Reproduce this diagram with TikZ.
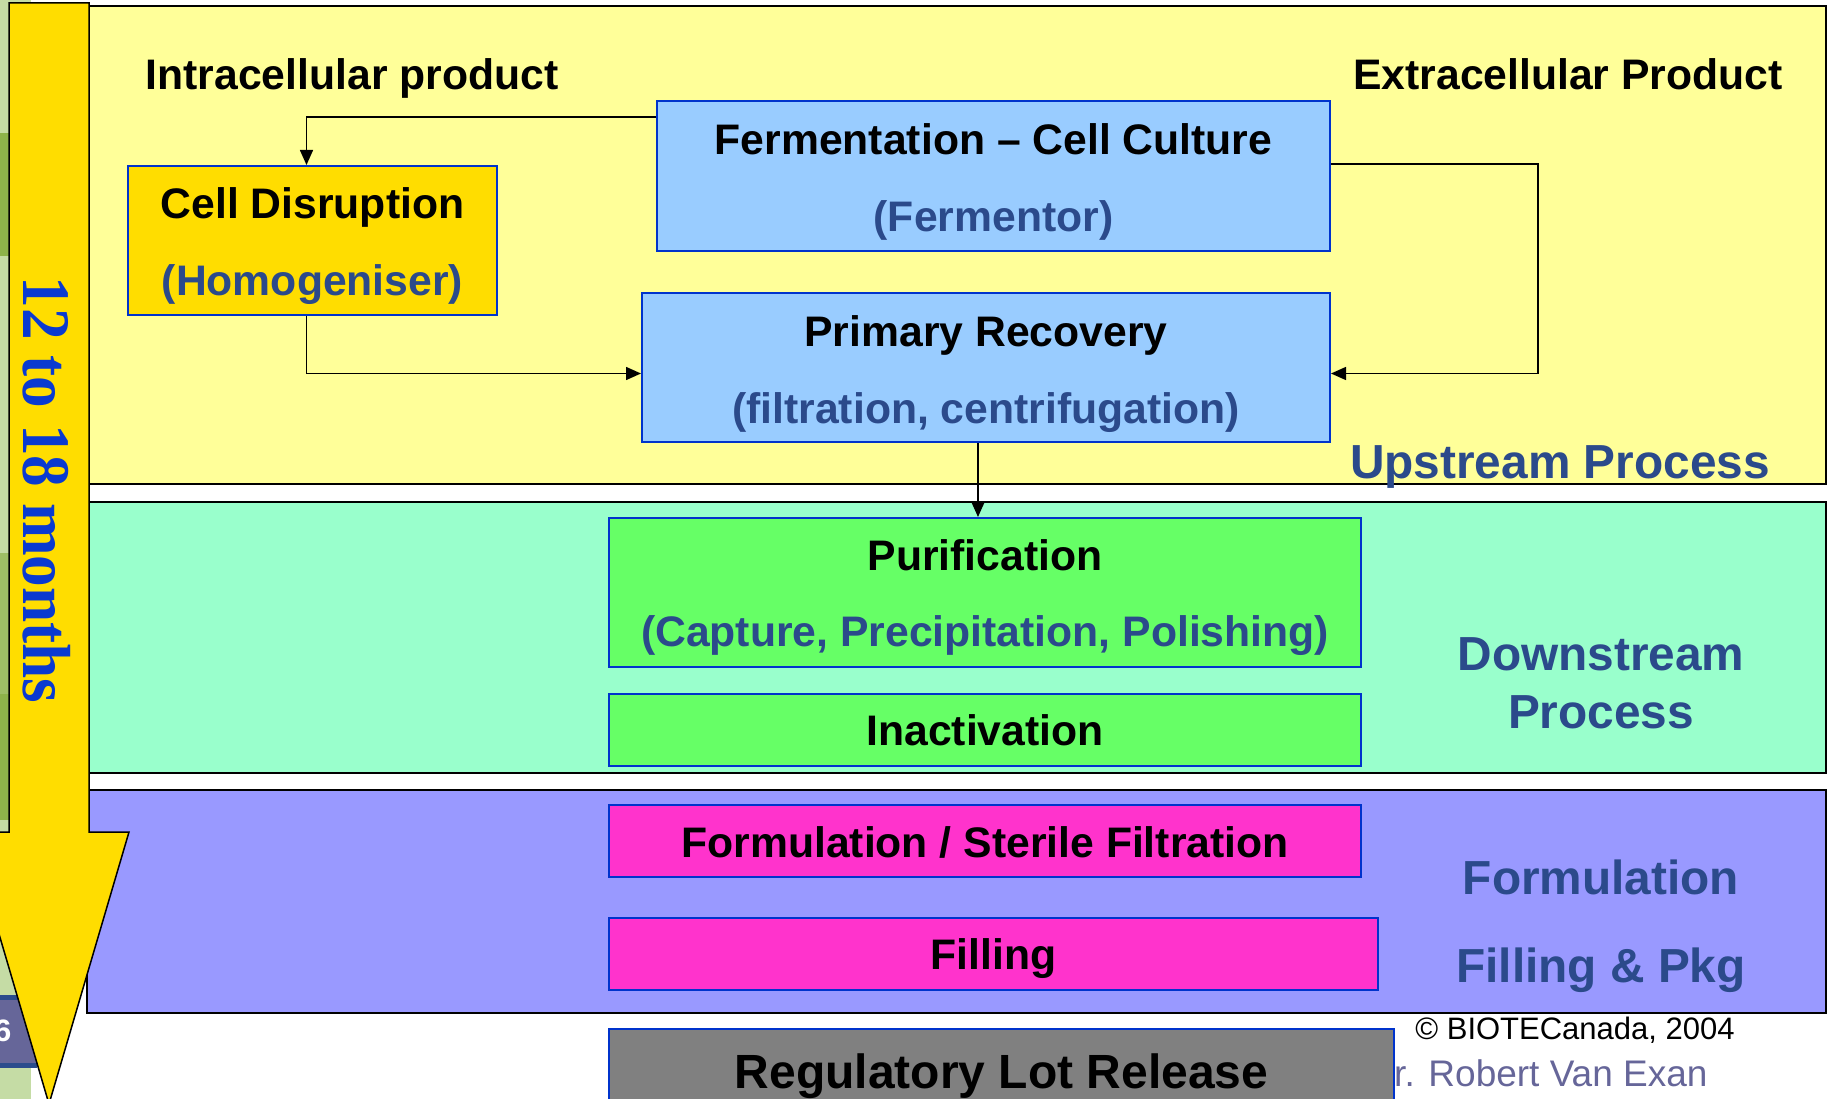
\documentclass[tikz,border=0pt]{standalone}
\usepackage{fontspec}
\setmainfont{Liberation Sans}
\newfontfamily\serifbold{Liberation Serif}
\usetikzlibrary{arrows.meta}

\definecolor{upyellow}{HTML}{FFFF99}
\definecolor{downgreen}{HTML}{99FFCC}
\definecolor{fillpurple}{HTML}{9999FF}
\definecolor{goldfill}{HTML}{FFDD00}
\definecolor{skyfill}{HTML}{99CCFF}
\definecolor{limefill}{HTML}{66FF66}
\definecolor{pinkfill}{HTML}{FF33CC}
\definecolor{grayfill}{HTML}{808080}
\definecolor{boxblue}{HTML}{0033CC}
\definecolor{subblue}{HTML}{2B4A8B}
\definecolor{monthblue}{HTML}{0A3AD0}
\definecolor{namegray}{HTML}{666699}
\definecolor{stripgreen}{HTML}{C5DCA5}
\definecolor{stripdark}{HTML}{8DB34A}
\definecolor{slideblue}{HTML}{666699}
\definecolor{slideline}{HTML}{2B4C8C}

\tikzset{
  band/.style={draw=black, line width=1.5pt},
  stepbox/.style={draw=boxblue, line width=2pt, inner sep=0pt},
  steptxt/.style={font=\fontsize{42.7}{50}\selectfont\bfseries, text height=30.7pt, text depth=0pt, inner sep=0pt},
  subtxt/.style={steptxt, text=subblue},
  stagetxt/.style={font=\fontsize{47.8}{56}\selectfont\bfseries, text=subblue, text height=34.4pt, text depth=0pt, inner sep=0pt},
  conn/.style={-{Triangle[length=15pt,width=13pt]}, line width=1.5pt}
}

\begin{document}
\begin{tikzpicture}[x=1pt, y=-1pt]
    \useasboundingbox (0,0) rectangle (1829,1099);

    % slide edge behind the diagram
    \fill[stripgreen] (0,0) rectangle (31,1099);
    \fill[stripdark] (0,133) rectangle (31,256);
    \fill[stripdark!70!stripgreen] (0,553) rectangle (31,694);
    \fill[stripdark] (0,694) rectangle (31,820);
    \fill[slideblue] (-10,995) rectangle (37,1068);
    \fill[slideline] (-10,995) rectangle (37,1000);
    \fill[slideline] (-10,1063) rectangle (37,1068);
    \node[anchor=west, inner sep=0pt, text=white, font=\fontsize{31}{36}\selectfont\bfseries] (slideno) at (-6,1031) {6};

    % process bands
    \fill[upyellow, band] (87,6) rectangle (1826,484);
    \fill[downgreen, band] (87,502) rectangle (1826,773);
    \fill[fillpurple, band] (87,790) rectangle (1826,1013);

    % time arrow
    \filldraw[fill=goldfill, draw=black, line width=1.5pt]
        (9,3) -- (89,3) -- (89,832) -- (129,832) -- (49,1104) -- (-31,832) -- (9,832) -- cycle;
    \node[rotate=-90, inner sep=0pt, text=monthblue, font=\fontsize{68}{80}\serifbold\bfseries] (months) at (47,490)
        {\scalebox{0.93}[1]{12 to 18 months}};

    % upstream
    \node[steptxt] (intra) at (352,74) {Intracellular product};
    \node[steptxt] (extra) at (1568,74) {Extracellular Product};

    \node[stepbox, fill=goldfill, minimum width=369pt, minimum height=149pt] (celldis) at (312.5,240.5) {};
    \node[steptxt] at (312.5,203) {Cell Disruption};
    \node[subtxt] at (312.5,280) {(Homogeniser)};

    \node[stepbox, fill=skyfill, minimum width=673pt, minimum height=150pt] (ferment) at (993.5,176) {};
    \node[steptxt] at (993.5,139) {Fermentation -- Cell Culture};
    \node[subtxt] at (993.5,216) {(Fermentor)};

    \node[stepbox, fill=skyfill, minimum width=688pt, minimum height=149pt] (primrec) at (986,367.5) {};
    \node[steptxt] at (986,331) {Primary Recovery};
    \node[subtxt] at (986,408) {(filtration, centrifugation)};

    \node[stagetxt] (upstage) at (1560,461) {Upstream Process};

    % downstream
    \node[stepbox, fill=limefill, minimum width=752pt, minimum height=149pt] (purif) at (985,592.5) {};
    \node[steptxt] at (985,555) {Purification};
    \node[subtxt] at (985,631) {(Capture, Precipitation, Polishing)};

    \node[stepbox, fill=limefill, minimum width=752pt, minimum height=72pt] (inact) at (985,730) {};
    \node[steptxt] at (985,730) {Inactivation};

    \node[stagetxt] (downstage) at (1601,653) {Downstream};
    \node[stagetxt] (downstage2) at (1601,711) {Process};

    % formulation and filling
    \node[stepbox, fill=pinkfill, minimum width=752pt, minimum height=72pt] (formul) at (985,841) {};
    \node[steptxt] at (985,842) {Formulation / Sterile Filtration};

    \node[stepbox, fill=pinkfill, minimum width=769pt, minimum height=72pt] (filling) at (993.5,954) {};
    \node[steptxt] at (993.5,954) {Filling};

    \node[stagetxt] (formstage) at (1601,877) {Formulation};
    \node[stagetxt] (fillstage) at (1601,965) {Filling \& Pkg};

    % footer
    \node[inner sep=0pt, text height=22.3pt, text depth=0pt, font=\fontsize{31}{36}\selectfont] (copy) at (1575,1028) {\textcopyright{} BIOTECanada, 2004};
    \node[anchor=west, inner sep=0pt, text height=26.6pt, text depth=0pt, text=namegray, font=\fontsize{37}{44}\selectfont] (author) at (1394,1073) {r. Robert Van Exan};

    \node[stepbox, fill=grayfill, minimum width=785pt, minimum height=86pt] (release) at (1001.5,1072) {};
    \node[inner sep=0pt, text height=34.6pt, text depth=0pt, font=\fontsize{48}{56}\selectfont\bfseries] at (1001.5,1071) {Regulatory Lot Release};

    % connectors
    \draw[conn] ([yshift=59pt]ferment.west) -| ([xshift=-6pt]celldis.north);
    \draw[conn] ([xshift=-6pt]celldis.south) |- ([yshift=-6pt]primrec.west);
    \draw[conn] ([yshift=12pt]ferment.east) -- ++(207,0) |- ([yshift=-6pt]primrec.east);
    \draw[conn] ([xshift=-8pt]primrec.south) -- ([xshift=-8pt]primrec.south |- purif.north);

\end{tikzpicture}
\end{document}
